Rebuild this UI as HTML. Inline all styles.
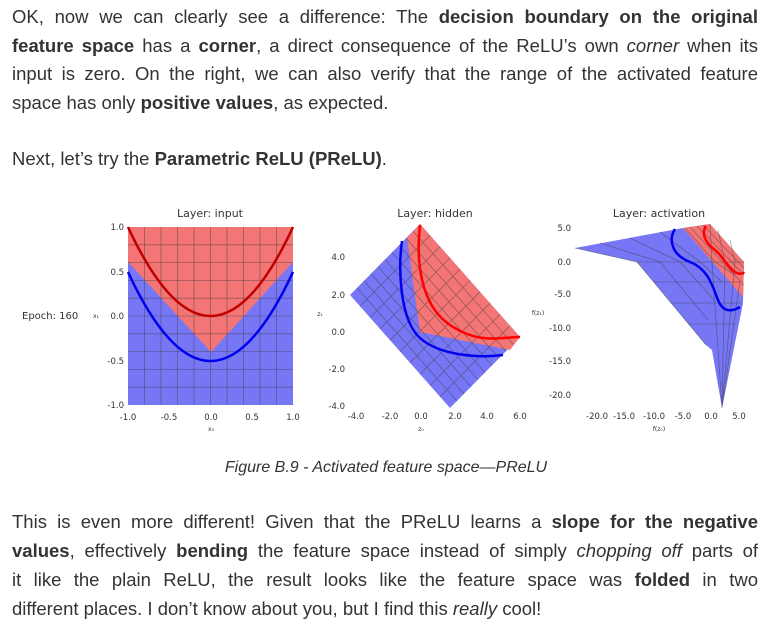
<!DOCTYPE html>
<html><head><meta charset="utf-8"><style>
body{margin:0;width:772px;height:632px;background:#fff;position:relative;overflow:hidden;font-family:"Liberation Sans",sans-serif;color:#333}
.l{position:absolute;left:12px;width:746px;font-size:18.5px;line-height:22px;white-space:nowrap}
.j{text-align:justify;text-align-last:justify;white-space:normal}
b{font-weight:bold}
svg{position:absolute;left:0;top:0}
svg text{font-family:"DejaVu Sans",sans-serif;fill:#333}
</style></head><body>
<div class="l j" style="top:6px">OK, now we can clearly see a difference: The <b>decision boundary on the original</b></div>
<div class="l j" style="top:35px"><b>feature space</b> has a <b>corner</b>, a direct consequence of the ReLU’s own <i>corner</i> when its</div>
<div class="l j" style="top:63px">input is zero. On the right, we can also verify that the range of the activated feature</div>
<div class="l" style="top:92px">space has only <b>positive values</b>, as expected.</div>
<div class="l" style="top:148px">Next, let’s try the <b>Parametric ReLU (PReLU)</b>.</div>
<div class="l" style="top:457px;left:0;width:772px;text-align:center;font-size:16px;font-style:italic">Figure B.9 - Activated feature space—PReLU</div>
<div class="l j" style="top:511px">This is even more different! Given that the PReLU learns a <b>slope for the negative</b></div>
<div class="l j" style="top:540px"><b>values</b>, effectively <b>bending</b> the feature space instead of simply <i>chopping off</i> parts of</div>
<div class="l j" style="top:569px">it like the plain ReLU, the result looks like the feature space was <b>folded</b> in two</div>
<div class="l" style="top:598px">different places. I don’t know about you, but I find this <i>really</i> cool!</div>
<svg width="772" height="632" viewBox="0 0 772 632">
<!-- plot 1 -->
<rect x="128" y="227" width="165" height="178" fill="#7777f6"/>
<polygon points="128,227 293,227 293,262 211,352 128,262" fill="#f47575"/>
<g stroke="#333" stroke-opacity="0.45" stroke-width="0.8">
<path d="M144.5,227V405M161,227V405M177.5,227V405M194,227V405M210.5,227V405M227,227V405M243.5,227V405M260,227V405M276.5,227V405"/>
<path d="M128,244.8H293M128,262.6H293M128,280.4H293M128,298.2H293M128,316H293M128,333.8H293M128,351.6H293M128,369.4H293M128,387.2H293"/>
</g>
<path d="M128,227Q210.5,405 293,227" fill="none" stroke="#c00000" stroke-width="2.5"/>
<path d="M128,272Q210.5,450 293,272" fill="none" stroke="#0000ee" stroke-width="2.5"/>
<g font-size="8.5" text-anchor="end">
<text x="124" y="230">1.0</text><text x="124" y="275">0.5</text><text x="124" y="319">0.0</text><text x="124" y="364">-0.5</text><text x="124" y="408">-1.0</text></g>
<g font-size="8.5" text-anchor="middle">
<text x="128" y="420">-1.0</text><text x="169" y="420">-0.5</text><text x="211" y="420">0.0</text><text x="252" y="420">0.5</text><text x="293" y="420">1.0</text>
<text x="211" y="431" font-size="6">x₀</text>
<text x="210" y="217" font-size="11">Layer: input</text></g>
<text x="22" y="319" font-size="10">Epoch: 160</text>
<text x="93" y="318" font-size="6">x₁</text>
<!-- plot 2 -->
<polygon points="420,224 350,295 450,408 520,337" fill="#7777f6"/>
<polygon points="420,224 407,238 420,332 510,350 520,337" fill="#f47575"/>
<g stroke="#333" stroke-opacity="0.45" stroke-width="0.8" id="g2"></g>
<path d="M402,241C398,270 400,320 420,338S480,358 503,355" fill="none" stroke="#0000ee" stroke-width="2.5"/>
<path d="M420,225C416,260 420,305 450,325S500,337 520,337" fill="none" stroke="#ff0000" stroke-width="2.5"/>
<g font-size="8.5" text-anchor="end">
<text x="345" y="260">4.0</text><text x="345" y="298">2.0</text><text x="345" y="335">0.0</text><text x="345" y="372">-2.0</text><text x="345" y="409">-4.0</text></g>
<g font-size="8.5" text-anchor="middle">
<text x="356" y="419">-4.0</text><text x="390" y="419">-2.0</text><text x="421" y="419">0.0</text><text x="455" y="419">2.0</text><text x="487" y="419">4.0</text><text x="520" y="419">6.0</text>
<text x="421" y="431" font-size="6">z₀</text><text x="320" y="316" font-size="6">z₁</text>
<text x="435" y="217" font-size="11">Layer: hidden</text></g>
<!-- plot 3 -->
<polygon points="575,248 683,228 710,224 744,262 743,303 722,408 712,350 706,345 637,262" fill="#7777f6"/>
<polygon points="683,228 710,224 744,262 743,297" fill="#f47575"/>
<g stroke="#333" stroke-opacity="0.45" stroke-width="0.8" fill="none">
<path d="M575,248L637,262L706,345M600,243L660,262L708,320M630,238L680,262L714,300M660,232L700,262L722,282M685,228L715,262L735,275"/>
<path d="M637,262H744M654,282L740,282M671,303L741,303M688,324L735,324"/>
<path d="M690,227L744,285M697,226L744,275M703,225L744,268M722,408L712,262L710,224M722,408L725,262L718,230M722,408L735,262L730,240M722,408L740,280"/>
</g>
<path d="M675,229C668,240 672,255 690,262S712,285 718,300S735,310 740,307" fill="none" stroke="#0000ee" stroke-width="2.5"/>
<path d="M706,226C700,235 708,245 715,250S728,268 735,272S744,272 744,272" fill="none" stroke="#ff0000" stroke-width="2.5"/>
<g font-size="8.5" text-anchor="end">
<text x="571" y="231">5.0</text><text x="571" y="265">0.0</text><text x="571" y="297">-5.0</text><text x="571" y="331">-10.0</text><text x="571" y="364">-15.0</text><text x="571" y="398">-20.0</text></g>
<g font-size="8.5" text-anchor="middle">
<text x="597" y="419">-20.0</text><text x="624" y="419">-15.0</text><text x="654" y="419">-10.0</text><text x="683" y="419">-5.0</text><text x="711" y="419">0.0</text><text x="739" y="419">5.0</text>
<text x="659" y="431" font-size="6">f(z₀)</text><text x="538" y="315" font-size="6">f(z₁)</text>
<text x="659" y="217" font-size="11">Layer: activation</text></g>
</svg>
<script>
var g=document.getElementById('g2'),s='';
var T=[420,224],L=[350,295],R=[520,337];
for(var k=1;k<10;k++){var t=k/10;
var a=[T[0]+(L[0]-T[0])*t,T[1]+(L[1]-T[1])*t];s+='M'+a[0]+','+a[1]+'l100,113';
var b=[T[0]+(R[0]-T[0])*t,T[1]+(R[1]-T[1])*t];s+='M'+b[0]+','+b[1]+'l-70,71';}
g.innerHTML='<path d="'+s+'" fill="none"/>';
</script>
</body></html>
